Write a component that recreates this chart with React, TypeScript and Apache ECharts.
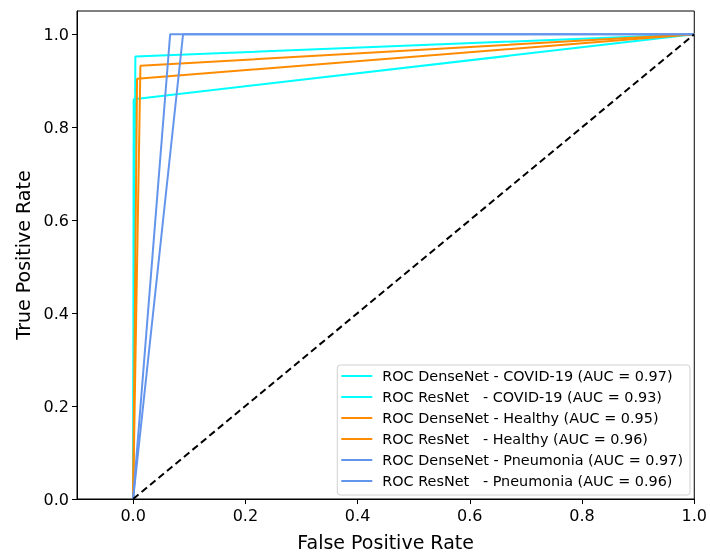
import React, { useEffect, useRef } from "react";
import * as echarts from "echarts";

const legendNames = [
  "ROC DenseNet - COVID-19 (AUC = 0.97)",
  "ROC ResNet   - COVID-19 (AUC = 0.93)",
  "ROC DenseNet - Healthy (AUC = 0.95)",
  "ROC ResNet   - Healthy (AUC = 0.96)",
  "ROC DenseNet - Pneumonia (AUC = 0.97)",
  "ROC ResNet   - Pneumonia (AUC = 0.96)",
];
const seriesColors = ["#00ffff", "#00ffff", "#ff8c00", "#ff8c00", "#6495ed", "#6495ed"];
// [fpr, tpr] points for each ROC curve
const fprValues = [
  [0, 0.004, 1],
  [0, 0.001, 1],
  [0, 0.007, 1],
  [0, 0.013, 1],
  [0, 0.066, 1],
  [0, 0.089, 1],
];
const tprValues = [
  [0, 0.952, 1],
  [0, 0.86, 1],
  [0, 0.904, 1],
  [0, 0.932, 1],
  [0, 1.0, 1],
  [0, 1.0, 1],
];
const diagonalX = [0, 1];
const diagonalY = [0, 1];
const tickValues = [0, 0.2, 0.4, 0.6, 0.8, 1.0];

export default function App() {
  const ref = useRef<HTMLDivElement>(null);
  useEffect(() => {
    if (!ref.current) return;
    const chart = echarts.init(ref.current, null, { renderer: "svg" });
    const font = "DejaVu Sans";
    const series: any[] = legendNames.map((name, i) => ({
      name,
      type: "line",
      data: fprValues[i].map((x, j) => [x, tprValues[i][j]]),
      symbol: "none",
      showSymbol: false,
      lineStyle: { color: seriesColors[i], width: 2 },
      itemStyle: { color: seriesColors[i] },
      z: 2,
    }));
    series.push({
      name: "diag",
      type: "line",
      data: diagonalX.map((x, j) => [x, diagonalY[j]]),
      symbol: "none",
      lineStyle: { color: "#000", width: 2, type: [7, 4] },
      z: 3,
    });
    const axisCommon = {
      axisLine: { show: true, onZero: false, lineStyle: { color: "#000" } },
      axisTick: { show: true, length: 5, customValues: tickValues, lineStyle: { color: "#000" } },
      axisLabel: {
        customValues: tickValues,
        formatter: (v: number) => v.toFixed(1),
        fontFamily: font,
        fontSize: 16,
        color: "#000",
        margin: 8,
      },
      splitLine: { show: false },
    };
    chart.setOption({
      animation: false,
      grid: {
        left: 77,
        top: 11,
        right: 14,
        bottom: 54,
        show: true,
        borderColor: "#000",
        borderWidth: 1,
        backgroundColor: "transparent",
      },
      xAxis: {
        type: "value",
        min: -0.1,
        max: 1.0,
        name: "False Positive Rate",
        nameLocation: "middle",
        nameGap: 33,
        nameTextStyle: { fontFamily: font, fontSize: 19, color: "#000" },
        ...axisCommon,
      },
      yAxis: {
        type: "value",
        min: 0,
        max: 1.05,
        name: "True Positive Rate",
        nameLocation: "middle",
        nameGap: 45,
        nameRotate: 90,
        nameTextStyle: { fontFamily: font, fontSize: 19, color: "#000" },
        ...axisCommon,
      },
      legend: {
        data: legendNames,
        orient: "vertical",
        right: 20,
        bottom: 61,
        icon: "rect",
        itemWidth: 31,
        itemHeight: 2,
        itemGap: 7,
        padding: [4, 7, 7, 4],
        borderColor: "#d0d0d0",
        borderWidth: 1,
        borderRadius: 3,
        backgroundColor: "rgba(255,255,255,0.8)",
        textStyle: { fontFamily: font, fontSize: 14.4, color: "#000", padding: [0, 0, 0, 5] },
      },
      series,
    });
    return () => chart.dispose();
  }, []);
  return (
    <div
      ref={ref}
      style={{ width: 710, height: 556, position: "fixed", left: 0, top: 0 }}
    />
  );
}
